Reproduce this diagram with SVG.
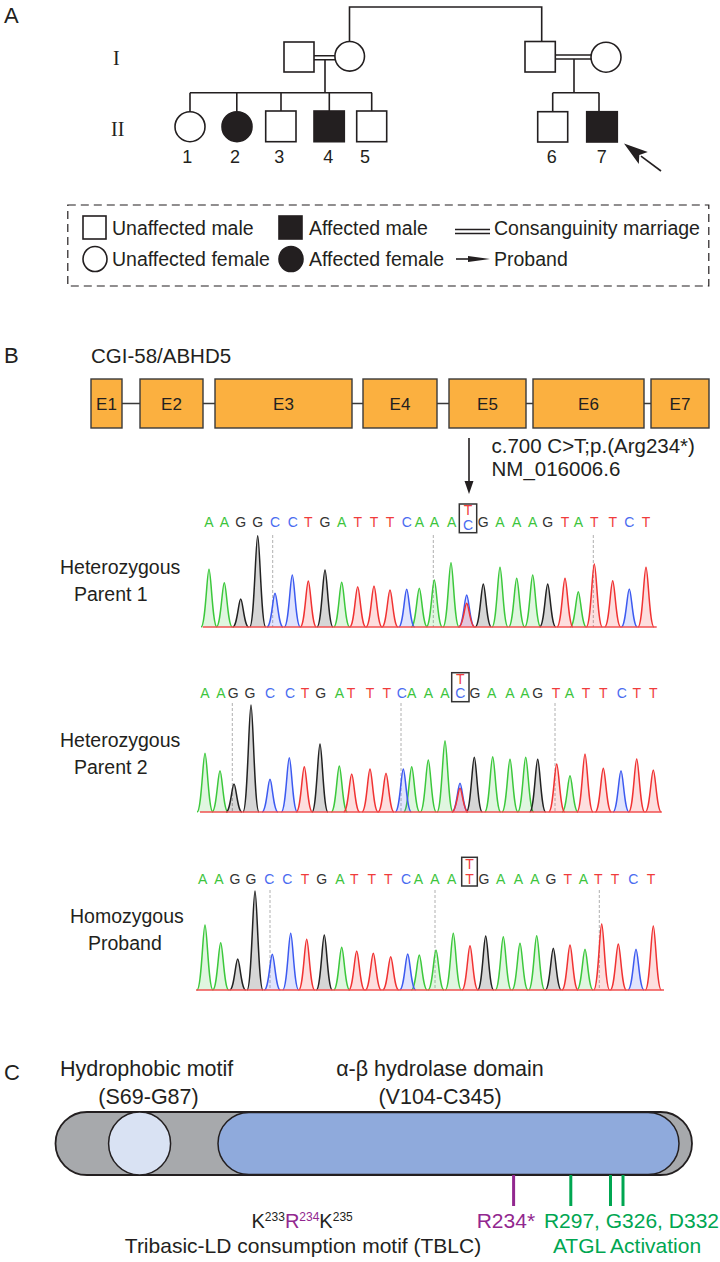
<svg xmlns="http://www.w3.org/2000/svg" width="720" height="1262" viewBox="0 0 720 1262">
<style>
.t{font-family:"Liberation Sans",Arial,sans-serif;fill:#231f20}
.sf{font-family:"Liberation Serif","Times New Roman",serif;fill:#231f20;font-size:20px}
.ln{stroke:#231f20;stroke-width:1.6;fill:none}
.sym{fill:#fff;stroke:#231f20;stroke-width:1.6}
.aff{fill:#231f20;stroke:#231f20;stroke-width:1.6}
.ex{fill:#fbb040;stroke:#3a3a3a;stroke-width:1.4}
.sq{font-family:"Liberation Sans",Arial,sans-serif;font-size:14px;text-anchor:middle}
.A{fill:#3cc43c}.C{fill:#4a6cf0}.G{fill:#333}.T{fill:#f03c3c}
.pg{fill:rgba(60,200,60,0.16);stroke:#3cc83c;stroke-width:1.5}
.pk{fill:rgba(0,0,0,0.16);stroke:#222;stroke-width:1.5}
.pb{fill:rgba(60,90,240,0.16);stroke:#3c5af0;stroke-width:1.5}
.pr{fill:rgba(240,50,50,0.16);stroke:#f03232;stroke-width:1.5}
.bl{stroke:#f05050;stroke-width:1.5}
.dl{stroke:#b0b0b0;stroke-width:1;stroke-dasharray:3 2}
.bx{fill:none;stroke:#333;stroke-width:1.5}
.mk{stroke-width:3}
</style>

<!-- Panel A -->
<text class="t" x="4" y="23" font-size="22">A</text>
<text class="sf" x="113" y="65">I</text>
<text class="sf" x="111" y="136">II</text>

<g id="connectors">
  <path class="ln" d="M349.5,41.5V7H541.7V41"/>
  <path class="ln" d="M314,55.7H335M314,59.7H335M325,59.7V92.7"/>
  <path class="ln" d="M190,92.7H372M190,92.7V111.7M236.8,92.7V111.5M281,92.7V111M329.3,92.7V111M371.7,92.7V111"/>
  <path class="ln" d="M555.3,55H591M555.3,59H591M574,59V92.7"/>
  <path class="ln" d="M552.7,92.7H599M552.7,92.7V111.7M599,92.7V111.7"/>
</g>

<g id="gen1-fam1">
  <rect id="I-male-1" class="sym" x="284" y="42" width="30" height="30"/>
  <circle id="I-female-1" class="sym" cx="349.7" cy="56.3" r="14.8"/>
</g>
<g id="gen1-fam2">
  <rect id="I-male-2" class="sym" x="525" y="41.5" width="30.3" height="30.5"/>
  <circle id="I-female-2" class="sym" cx="606" cy="57.2" r="15"/>
</g>
<g id="II-1"><circle class="sym" cx="190" cy="126.7" r="15"/><text class="t" x="187.3" y="163.3" font-size="18" text-anchor="middle">1</text></g>
<g id="II-2"><circle class="aff" cx="237" cy="126.7" r="15"/><text class="t" x="235" y="163.3" font-size="18" text-anchor="middle">2</text></g>
<g id="II-3"><rect class="sym" x="265.7" y="111" width="30.3" height="30.7"/><text class="t" x="279.3" y="163.3" font-size="18" text-anchor="middle">3</text></g>
<g id="II-4"><rect class="aff" x="314" y="111" width="30.3" height="30.7"/><text class="t" x="328.3" y="163.3" font-size="18" text-anchor="middle">4</text></g>
<g id="II-5"><rect class="sym" x="356.7" y="111" width="30" height="30.7"/><text class="t" x="365" y="163.3" font-size="18" text-anchor="middle">5</text></g>
<g id="II-6"><rect class="sym" x="537.7" y="111.7" width="30" height="30.3"/><text class="t" x="551.7" y="163.3" font-size="18" text-anchor="middle">6</text></g>
<g id="II-7"><rect class="aff" x="586.7" y="111.7" width="30.6" height="30.3"/><text class="t" x="601.7" y="163.3" font-size="18" text-anchor="middle">7</text></g>
<g id="proband-arrow">
  <line class="ln" x1="661" y1="171" x2="641" y2="156.2" stroke-width="2"/>
  <polygon fill="#231f20" points="624,143.5 647.8,151.9 639.3,154.9 638.8,163.9"/>
</g>

<g id="legend">
  <rect x="67.8" y="205" width="641" height="81" fill="none" stroke="#231f20" stroke-width="1.2" stroke-dasharray="8 5"/>
  <rect class="sym" x="83" y="216" width="23" height="23" stroke-width="1.4"/>
  <text class="t" x="112" y="235" font-size="19.5">Unaffected male</text>
  <rect class="aff" x="279" y="216" width="23" height="23"/>
  <text class="t" x="309" y="235" font-size="19.5">Affected male</text>
  <path class="ln" d="M455,229.5H490M455,233.5H490" stroke-width="1.4"/>
  <text class="t" x="494" y="235" font-size="19.5">Consanguinity marriage</text>
  <ellipse class="sym" cx="95" cy="259" rx="12" ry="12.5" stroke-width="1.4"/>
  <text class="t" x="112" y="266" font-size="19.5">Unaffected female</text>
  <ellipse class="aff" cx="291" cy="259" rx="12" ry="12.5"/>
  <text class="t" x="309" y="266" font-size="19.5">Affected female</text>
  <line class="ln" x1="456" y1="259" x2="472" y2="259" stroke-width="1.4"/>
  <polygon fill="#231f20" points="468,256 490,259 468,262"/>
  <text class="t" x="494" y="266" font-size="19.5">Proband</text>
</g>

<!-- Panel B -->
<text class="t" x="4" y="363" font-size="22">B</text>
<text class="t" x="91" y="363" font-size="20.5">CGI-58/ABHD5</text>
<g id="gene">
  <line x1="106" y1="403.5" x2="680" y2="403.5" stroke="#3a3a3a" stroke-width="1.6"/>
  <g id="E1"><rect class="ex" x="91" y="379" width="31" height="49"/><text class="t" x="106.5" y="410" font-size="17" text-anchor="middle">E1</text></g>
  <g id="E2"><rect class="ex" x="140" y="379" width="63" height="49"/><text class="t" x="171.5" y="410" font-size="17" text-anchor="middle">E2</text></g>
  <g id="E3"><rect class="ex" x="215" y="379" width="137" height="49"/><text class="t" x="283.5" y="410" font-size="17" text-anchor="middle">E3</text></g>
  <g id="E4"><rect class="ex" x="363" y="379" width="74" height="49"/><text class="t" x="400" y="410" font-size="17" text-anchor="middle">E4</text></g>
  <g id="E5"><rect class="ex" x="449" y="379" width="77" height="49"/><text class="t" x="487.5" y="410" font-size="17" text-anchor="middle">E5</text></g>
  <g id="E6"><rect class="ex" x="533" y="379" width="111" height="49"/><text class="t" x="588.5" y="410" font-size="17" text-anchor="middle">E6</text></g>
  <g id="E7"><rect class="ex" x="651" y="379" width="58" height="49"/><text class="t" x="680" y="410" font-size="17" text-anchor="middle">E7</text></g>
</g>
<g id="mutation-arrow">
  <line x1="469" y1="438" x2="469" y2="484" stroke="#231f20" stroke-width="1.6"/>
  <polygon fill="#231f20" points="469,494 464.5,481 473.5,481"/>
</g>
<text class="t" x="491.5" y="453" font-size="20.5">c.700 C&gt;T;p.(Arg234*)</text>
<text class="t" x="491.5" y="476" font-size="20.5">NM_016006.6</text>

<!-- Chromatogram 1 -->
<g id="chrom1">
  <text class="t" x="60" y="574" font-size="19.5">Heterozygous</text>
  <text class="t" x="74" y="601" font-size="19.5">Parent 1</text>
  <text class="sq" y="527"><tspan x="209" class="A">A</tspan><tspan x="224.3" class="A">A</tspan><tspan x="240.7" class="G">G</tspan><tspan x="257.7" class="G">G</tspan><tspan x="275" class="C">C</tspan><tspan x="292.7" class="C">C</tspan><tspan x="308.3" class="T">T</tspan><tspan x="325" class="G">G</tspan><tspan x="341.7" class="A">A</tspan><tspan x="357.7" class="T">T</tspan><tspan x="374" class="T">T</tspan><tspan x="390" class="T">T</tspan><tspan x="406.7" class="C">C</tspan><tspan x="419.3" class="A">A</tspan><tspan x="434.3" class="A">A</tspan><tspan x="451.7" class="A">A</tspan></text>
  <rect class="bx" x="459.3" y="504" width="17.4" height="28.7"/>
  <text class="sq T" x="468" y="515" font-size="12.5">T</text>
  <text class="sq C" x="468" y="530" font-size="12.5">C</text>
  <text class="sq" y="527"><tspan x="483.3" class="G">G</tspan><tspan x="500" class="A">A</tspan><tspan x="516.7" class="A">A</tspan><tspan x="532.7" class="A">A</tspan><tspan x="547.7" class="G">G</tspan><tspan x="565" class="T">T</tspan><tspan x="578.3" class="A">A</tspan><tspan x="594.3" class="T">T</tspan><tspan x="612.7" class="T">T</tspan><tspan x="629.3" class="C">C</tspan><tspan x="646" class="T">T</tspan></text>
  <path class="dl" d="M272.7,535V627M433.3,535V627M593.3,535V627"/>
  <path class="pg" d="M201,627c4.5,0 6,-57.7 8,-57.7s3.5,57.7 8,57.7M216.3,627c4.5,0 6,-44.3 8,-44.3s3.5,44.3 8,44.3M333.7,627c4.5,0 6,-44.7 8,-44.7s3.5,44.7 8,44.7M411.3,627c4.5,0 6,-38.7 8,-38.7s3.5,38.7 8,38.7M426.3,627c4.5,0 6,-47 8,-47s3.5,47 8,47M443,627c4.5,0 6,-64.3 8,-64.3s3.5,64.3 8,64.3M492,627c4.5,0 6,-59.7 8,-59.7s3.5,59.7 8,59.7M508.7,627c4.5,0 6,-48.7 8,-48.7s3.5,48.7 8,48.7M524.7,627c4.5,0 6,-52 8,-52s3.5,52 8,52M570.3,627c4.5,0 6,-35.3 8,-35.3s3.5,35.3 8,35.3"/>
  <path class="pk" d="M232.7,627c4.5,0 6,-28 8,-28s3.5,28 8,28M249.7,627c4.5,0 6,-91.3 8,-91.3s3.5,91.3 8,91.3M317,627c4.5,0 6,-57 8,-57s3.5,57 8,57M475.3,627c4.5,0 6,-43 8,-43s3.5,43 8,43M539.7,627c4.5,0 6,-43 8,-43s3.5,43 8,43"/>
  <path class="pb" d="M267,627c4.5,0 6,-33.7 8,-33.7s3.5,33.7 8,33.7M284.3,627c4.5,0 6,-52 8,-52s3.5,52 8,52M398.7,627c4.5,0 6,-37.7 8,-37.7s3.5,37.7 8,37.7M458.7,627c4.5,0 6,-32 8,-32s3.5,32 8,32M621.3,627c4.5,0 6,-38 8,-38s3.5,38 8,38"/>
  <path class="pr" d="M300.3,627c4.5,0 6,-46 8,-46s3.5,46 8,46M349.7,627c4.5,0 6,-40.3 8,-40.3s3.5,40.3 8,40.3M366,627c4.5,0 6,-41 8,-41s3.5,41 8,41M382,627c4.5,0 6,-37 8,-37s3.5,37 8,37M458.7,627c4.5,0 6,-23.7 8,-23.7s3.5,23.7 8,23.7M557,627c4.5,0 6,-48.7 8,-48.7s3.5,48.7 8,48.7M586.3,627c4.5,0 6,-63 8,-63s3.5,63 8,63M604.7,627c4.5,0 6,-46.3 8,-46.3s3.5,46.3 8,46.3M638,627c4.5,0 6,-59.7 8,-59.7s3.5,59.7 8,59.7"/>
  <line class="bl" x1="202.7" y1="627" x2="656.7" y2="627"/>
</g>

<!-- Chromatogram 2 -->
<g id="chrom2">
  <text class="t" x="60" y="747" font-size="19.5">Heterozygous</text>
  <text class="t" x="74" y="774" font-size="19.5">Parent 2</text>
  <text class="sq" y="698"><tspan x="205" class="A">A</tspan><tspan x="221" class="A">A</tspan><tspan x="233.3" class="G">G</tspan><tspan x="250" class="G">G</tspan><tspan x="270" class="C">C</tspan><tspan x="290" class="C">C</tspan><tspan x="305" class="T">T</tspan><tspan x="320.7" class="G">G</tspan><tspan x="339.3" class="A">A</tspan><tspan x="351" class="T">T</tspan><tspan x="370" class="T">T</tspan><tspan x="386.7" class="T">T</tspan><tspan x="401.7" class="C">C</tspan><tspan x="411.7" class="A">A</tspan><tspan x="428.3" class="A">A</tspan><tspan x="445" class="A">A</tspan></text>
  <rect class="bx" x="451.7" y="672.7" width="17.3" height="29"/>
  <text class="sq T" x="460.3" y="683.5" font-size="12.5">T</text>
  <text class="sq C" x="460.3" y="697.5" font-size="12.5">C</text>
  <text class="sq" y="698"><tspan x="475" class="G">G</tspan><tspan x="491.7" class="A">A</tspan><tspan x="510" class="A">A</tspan><tspan x="525" class="A">A</tspan><tspan x="537.7" class="G">G</tspan><tspan x="556" class="T">T</tspan><tspan x="569.3" class="A">A</tspan><tspan x="586" class="T">T</tspan><tspan x="603.3" class="T">T</tspan><tspan x="621.7" class="C">C</tspan><tspan x="636.7" class="T">T</tspan><tspan x="653.3" class="T">T</tspan></text>
  <path class="dl" d="M232.3,703V812M401,703V812M555,703V812"/>
  <path class="pg" d="M197,812c4.5,0 6,-58.7 8,-58.7s3.5,58.7 8,58.7M212,812c4.5,0 6,-41.3 8,-41.3s3.5,41.3 8,41.3M331.3,812c4.5,0 6,-46 8,-46s3.5,46 8,46M403.7,812c4.5,0 6,-45.3 8,-45.3s3.5,45.3 8,45.3M420.3,812c4.5,0 6,-52 8,-52s3.5,52 8,52M437,812c4.5,0 6,-71.3 8,-71.3s3.5,71.3 8,71.3M484.7,812c4.5,0 6,-55.3 8,-55.3s3.5,55.3 8,55.3M502,812c4.5,0 6,-52.7 8,-52.7s3.5,52.7 8,52.7M517.7,812c4.5,0 6,-54.7 8,-54.7s3.5,54.7 8,54.7M562,812c4.5,0 6,-36.3 8,-36.3s3.5,36.3 8,36.3"/>
  <path class="pk" d="M226,812c4.5,0 6,-28 8,-28s3.5,28 8,28M243,812c4.5,0 6,-107 8,-107s3.5,107 8,107M312,812c4.5,0 6,-68 8,-68s3.5,68 8,68M466.3,812c4.5,0 6,-54.7 8,-54.7s3.5,54.7 8,54.7M529.7,812c4.5,0 6,-52.7 8,-52.7s3.5,52.7 8,52.7"/>
  <path class="pb" d="M262,812c4.5,0 6,-32.7 8,-32.7s3.5,32.7 8,32.7M281.3,812c4.5,0 6,-54.3 8,-54.3s3.5,54.3 8,54.3M395.3,812c4.5,0 6,-43 8,-43s3.5,43 8,43M452,812c4.5,0 6,-28.7 8,-28.7s3.5,28.7 8,28.7M613,812c4.5,0 6,-41.3 8,-41.3s3.5,41.3 8,41.3"/>
  <path class="pr" d="M296.3,812c4.5,0 6,-45.3 8,-45.3s3.5,45.3 8,45.3M343.7,812c4.5,0 6,-38 8,-38s3.5,38 8,38M362,812c4.5,0 6,-43 8,-43s3.5,43 8,43M378,812c4.5,0 6,-38.7 8,-38.7s3.5,38.7 8,38.7M452,812c4.5,0 6,-23.7 8,-23.7s3.5,23.7 8,23.7M548.7,812c4.5,0 6,-48 8,-48s3.5,48 8,48M577,812c4.5,0 6,-58 8,-58s3.5,58 8,58M595.3,812c4.5,0 6,-43.7 8,-43.7s3.5,43.7 8,43.7M628.7,812c4.5,0 6,-53 8,-53s3.5,53 8,53M645.3,812c4.5,0 6,-42 8,-42s3.5,42 8,42"/>
  <line class="bl" x1="200" y1="812" x2="661.7" y2="812"/>
</g>

<!-- Chromatogram 3 -->
<g id="chrom3">
  <text class="t" x="70" y="923" font-size="19.5">Homozygous</text>
  <text class="t" x="88" y="950" font-size="19.5">Proband</text>
  <text class="sq" y="884"><tspan x="202.7" class="A">A</tspan><tspan x="219" class="A">A</tspan><tspan x="235" class="G">G</tspan><tspan x="251" class="G">G</tspan><tspan x="269.3" class="C">C</tspan><tspan x="287.3" class="C">C</tspan><tspan x="305" class="T">T</tspan><tspan x="321.7" class="G">G</tspan><tspan x="340" class="A">A</tspan><tspan x="354.3" class="T">T</tspan><tspan x="371.7" class="T">T</tspan><tspan x="388.3" class="T">T</tspan><tspan x="406" class="C">C</tspan><tspan x="418.3" class="A">A</tspan><tspan x="435" class="A">A</tspan><tspan x="451.7" class="A">A</tspan></text>
  <rect class="bx" x="461.7" y="857.3" width="15.6" height="28.7"/>
  <text class="sq T" x="469.5" y="869.3" font-size="12.5">T</text>
  <text class="sq T" x="469.5" y="884" font-size="12.5">T</text>
  <text class="sq" y="884"><tspan x="484" class="G">G</tspan><tspan x="500.7" class="A">A</tspan><tspan x="518.3" class="A">A</tspan><tspan x="535" class="A">A</tspan><tspan x="551" class="G">G</tspan><tspan x="567.7" class="T">T</tspan><tspan x="583.3" class="A">A</tspan><tspan x="598.3" class="T">T</tspan><tspan x="615" class="T">T</tspan><tspan x="633.3" class="C">C</tspan><tspan x="651" class="T">T</tspan></text>
  <path class="dl" d="M270,890V990M435,890V990M599.3,890V990"/>
  <path class="pg" d="M197,990c4.5,0 6,-65 8,-65s3.5,65 8,65M212.7,990c4.5,0 6,-47.3 8,-47.3s3.5,47.3 8,47.3M333.7,990c4.5,0 6,-42.7 8,-42.7s3.5,42.7 8,42.7M411.3,990c4.5,0 6,-35 8,-35s3.5,35 8,35M428,990c4.5,0 6,-40 8,-40s3.5,40 8,40M445.3,990c4.5,0 6,-56.7 8,-56.7s3.5,56.7 8,56.7M495.3,990c4.5,0 6,-53.3 8,-53.3s3.5,53.3 8,53.3M512,990c4.5,0 6,-46.7 8,-46.7s3.5,46.7 8,46.7M528.7,990c4.5,0 6,-54.3 8,-54.3s3.5,54.3 8,54.3M577,990c4.5,0 6,-40.7 8,-40.7s3.5,40.7 8,40.7"/>
  <path class="pk" d="M229.7,990c4.5,0 6,-31 8,-31s3.5,31 8,31M247,990c4.5,0 6,-99 8,-99s3.5,99 8,99M316.3,990c4.5,0 6,-55 8,-55s3.5,55 8,55M477.7,990c4.5,0 6,-54 8,-54s3.5,54 8,54M545.3,990c4.5,0 6,-41.7 8,-41.7s3.5,41.7 8,41.7"/>
  <path class="pb" d="M264.3,990c4.5,0 6,-35.7 8,-35.7s3.5,35.7 8,35.7M282.7,990c4.5,0 6,-56.7 8,-56.7s3.5,56.7 8,56.7M399.7,990c4.5,0 6,-36 8,-36s3.5,36 8,36M628,990c4.5,0 6,-40.7 8,-40.7s3.5,40.7 8,40.7"/>
  <path class="pr" d="M298.7,990c4.5,0 6,-50.7 8,-50.7s3.5,50.7 8,50.7M348.7,990c4.5,0 6,-39 8,-39s3.5,39 8,39M365.3,990c4.5,0 6,-36.7 8,-36.7s3.5,36.7 8,36.7M382.7,990c4.5,0 6,-33.3 8,-33.3s3.5,33.3 8,33.3M462,990c4.5,0 6,-44.3 8,-44.3s3.5,44.3 8,44.3M562,990c4.5,0 6,-45 8,-45s3.5,45 8,45M593.7,990c4.5,0 6,-66 8,-66s3.5,66 8,66M610.3,990c4.5,0 6,-46 8,-46s3.5,46 8,46M645.3,990c4.5,0 6,-64 8,-64s3.5,64 8,64"/>
  <line class="bl" x1="196" y1="990" x2="664" y2="990"/>
</g>

<!-- Panel C -->
<text class="t" x="4" y="1080" font-size="22">C</text>
<text class="t" x="60" y="1076" font-size="21.5">Hydrophobic motif</text>
<text class="t" x="148.5" y="1104" font-size="21.5" text-anchor="middle">(S69-G87)</text>
<text class="t" x="440" y="1076" font-size="21.5" text-anchor="middle">α-β hydrolase domain</text>
<text class="t" x="440" y="1104" font-size="21.5" text-anchor="middle">(V104-C345)</text>
<g id="protein">
  <rect x="55.5" y="1112" width="636.5" height="63" rx="31.5" fill="#a7a9ac" stroke="#231f20" stroke-width="1.8"/>
  <ellipse cx="139.6" cy="1143.5" rx="31" ry="31.5" fill="#d9e2f3" stroke="#231f20" stroke-width="1.5"/>
  <rect x="218" y="1112.5" width="461" height="62" rx="31" fill="#8faadc" stroke="#231f20" stroke-width="1.5"/>
</g>
<g id="sites">
  <line class="mk" x1="513.6" y1="1175" x2="513.6" y2="1206" stroke="#92278f"/>
  <line class="mk" x1="570.8" y1="1175" x2="570.8" y2="1206" stroke="#00a651"/>
  <line class="mk" x1="610.5" y1="1175" x2="610.5" y2="1206" stroke="#00a651"/>
  <line class="mk" x1="623" y1="1175" x2="623" y2="1206" stroke="#00a651"/>
</g>
<text class="t" x="251.5" y="1228" font-size="20">K<tspan font-size="12" dy="-7">233</tspan><tspan dy="7" fill="#92278f">R</tspan><tspan font-size="12" dy="-7" fill="#92278f">234</tspan><tspan dy="7">K</tspan><tspan font-size="12" dy="-7">235</tspan></text>
<text class="t" x="303" y="1253" font-size="21" text-anchor="middle">Tribasic-LD consumption motif (TBLC)</text>
<text class="t" x="476.7" y="1228" font-size="21" style="fill:#92278f">R234*</text>
<text class="t" x="719" y="1228" font-size="21" text-anchor="end" style="fill:#00a651">R297, G326, D332</text>
<text class="t" x="627" y="1253" font-size="21" text-anchor="middle" style="fill:#00a651">ATGL Activation</text>
</svg>
